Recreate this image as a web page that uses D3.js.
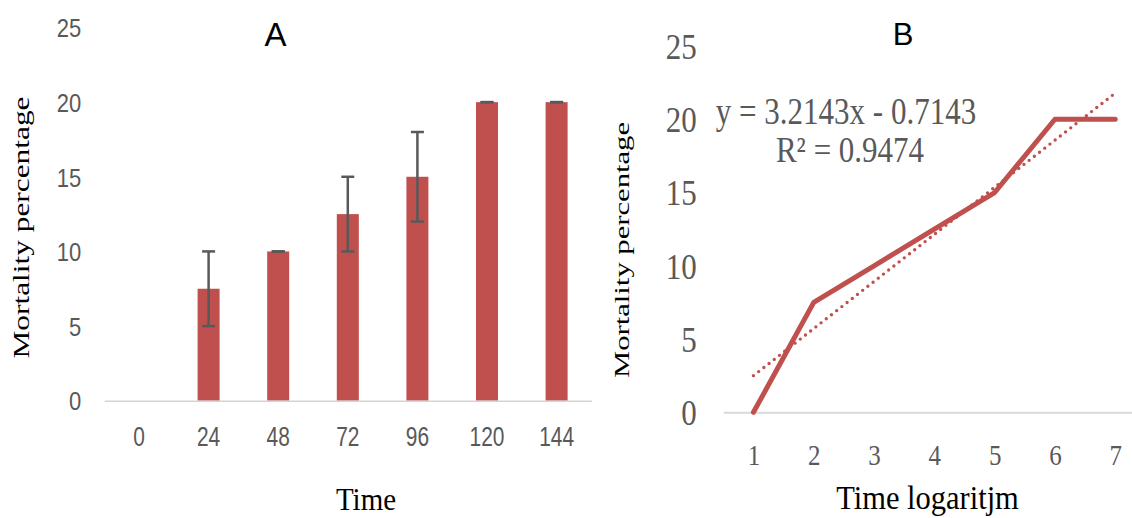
<!DOCTYPE html>
<html>
<head>
<meta charset="utf-8">
<script src="https://cdn.jsdelivr.net/npm/d3@7"></script>
<style>
  html, body { margin: 0; padding: 0; background: #fff; }
  svg { display: block; }
</style>
</head>
<body>
<div id="chart"></div>
<script>
// chart A: mortality over time (bars + error bars)
const timeLabels = ["0", "24", "48", "72", "96", "120", "144"];
const mortality = [0, 7.5, 10, 12.5, 15, 20, 20];
const mortalityErr = [0, 2.5, 0, 2.5, 3, 0, 0];

// chart B: mortality against time logarithm
const logTime = [1, 2, 3, 4, 5, 6, 7];
const logMortality = [0, 7.5, 10, 12.5, 15, 20, 20];

const yTicks = [0, 5, 10, 15, 20, 25];

const red = "#c0504d";
const grey = "#595959";
const sans = "'Liberation Sans', Arial, sans-serif";
const serif = "'Liberation Serif', 'Times New Roman', serif";

const svg = d3.select("#chart").append("svg")
    .attr("width", 1132)
    .attr("height", 518);

svg.append("rect").attr("width", 1132).attr("height", 518).attr("fill", "#fff");

// ---------- A ----------
const xA = d3.scaleBand().domain(timeLabels).range([104.2, 591.4]).padding(0);
const yA = d3.scaleLinear().domain([0, 25]).range([400.7, 27.5]);

const dataA = timeLabels.map((t, i) => ({ t, v: mortality[i], e: mortalityErr[i] }));
const barW = xA.bandwidth() * 0.316;

svg.append("g").selectAll("rect")
  .data(dataA.filter(d => d.v > 0))
  .join("rect")
    .attr("x", d => xA(d.t) + (xA.bandwidth() - barW) / 2)
    .attr("y", d => yA(d.v))
    .attr("width", barW)
    .attr("height", d => yA(0) - yA(d.v))
    .attr("fill", red);

// error bars
const err = svg.append("g").attr("stroke", grey).attr("stroke-width", 2.5);
dataA.filter(d => d.v > 0).forEach(d => {
  const cx = xA(d.t) + xA.bandwidth() / 2;
  err.append("line").attr("x1", cx).attr("x2", cx)
    .attr("y1", yA(d.v - d.e)).attr("y2", yA(d.v + d.e));
  [d.v - d.e, d.v + d.e].forEach(v => {
    err.append("line").attr("x1", cx - 6.5).attr("x2", cx + 6.5)
      .attr("y1", yA(v)).attr("y2", yA(v));
  });
});

const axA = svg.append("g")
    .attr("transform", `translate(0,${yA(0)})`)
    .call(d3.axisBottom(xA).tickSize(0).tickSizeOuter(0));
axA.select(".domain").attr("stroke", "#d4d4d4").attr("stroke-width", 1.5);
axA.selectAll("text")
    .attr("y", 0).attr("dy", "0.35em")
    .attr("transform", "translate(0,36) scale(0.95,1.22)")
    .attr("fill", grey).style("font", `22px ${sans}`);

const ayA = svg.append("g")
    .attr("transform", `translate(${xA.range()[0]},0)`)
    .call(d3.axisLeft(yA).tickValues(yTicks).tickSize(0).tickPadding(23));
ayA.select(".domain").remove();
ayA.selectAll("text")
    .attr("dy", "0.35em")
    .attr("transform", "scale(1,1.2)")
    .attr("fill", grey).style("font", `22px ${sans}`);

svg.append("text")
    .attr("transform", "translate(366,510) scale(1,1.12)")
    .attr("text-anchor", "middle")
    .style("font", `29px ${serif}`)
    .attr("fill", "#000")
    .text("Time");

svg.append("text")
    .attr("transform", "translate(29,227.5) rotate(-90)")
    .attr("text-anchor", "middle")
    .attr("textLength", 262)
    .attr("lengthAdjust", "spacingAndGlyphs")
    .style("font", `23px ${serif}`)
    .attr("fill", "#000")
    .text("Mortality  percentage");

svg.append("text")
    .attr("x", 275.5).attr("y", 45.7)
    .attr("text-anchor", "middle")
    .style("font", `33px ${sans}`)
    .attr("fill", "#000")
    .text("A");

// ---------- B ----------
const xB = d3.scaleLinear().domain([0.5, 7.5]).range([723.3, 1145.4]);
const yB = d3.scaleLinear().domain([0, 25]).range([412.3, 46]);

const axB = svg.append("g")
    .attr("transform", `translate(0,${yB(0)})`)
    .call(d3.axisBottom(xB).tickValues(logTime).tickFormat(d3.format("d")).tickSize(0).tickSizeOuter(0));
axB.select(".domain").attr("stroke", "#d9d9d9").attr("stroke-width", 2);
axB.selectAll("text")
    .attr("y", 0).attr("dy", "0.34em")
    .attr("transform", "translate(0,42.7) scale(1,1.18)")
    .attr("fill", grey).style("font", `25px ${serif}`);

const ayB = svg.append("g")
    .attr("transform", `translate(${xB(0.5)},0)`)
    .call(d3.axisLeft(yB).tickValues(yTicks).tickSize(0).tickPadding(26.6));
ayB.select(".domain").remove();
ayB.selectAll("text")
    .attr("dy", "0.34em")
    .attr("transform", "scale(1,1.17)")
    .attr("fill", grey).style("font", `31px ${serif}`);

// linear trend line (least squares)
const mx = d3.mean(logTime), my = d3.mean(logMortality);
const sxy = d3.sum(logTime, (x, i) => (x - mx) * (logMortality[i] - my));
const sxx = d3.sum(logTime, x => (x - mx) ** 2);
const syy = d3.sum(logMortality, y => (y - my) ** 2);
const slope = sxy / sxx;
const intercept = my - slope * mx;
const r2 = (sxy * sxy) / (sxx * syy);

const ext = d3.extent(logTime);
svg.append("path")
    .datum(ext.map(x => [x, slope * x + intercept]))
    .attr("d", d3.line().x(d => xB(d[0])).y(d => yB(d[1])))
    .attr("fill", "none")
    .attr("stroke", red)
    .attr("stroke-width", 3.4)
    .attr("stroke-linecap", "round")
    .attr("stroke-dasharray", "0 6.6");

svg.append("path")
    .datum(logTime.map((x, i) => [x, logMortality[i]]))
    .attr("d", d3.line().x(d => xB(d[0])).y(d => yB(d[1])))
    .attr("fill", "none")
    .attr("stroke", red)
    .attr("stroke-width", 5)
    .attr("stroke-linecap", "round")
    .attr("stroke-linejoin", "round");

const sign = intercept < 0 ? "-" : "+";
svg.append("text")
    .attr("transform", "translate(846,124.3) scale(1,1.2)")
    .attr("text-anchor", "middle")
    .attr("fill", grey).style("font", `31px ${serif}`)
    .text(`y = ${slope.toFixed(4)}x ${sign} ${Math.abs(intercept).toFixed(4)}`);
svg.append("text")
    .attr("transform", "translate(850,161.7) scale(1,1.15)")
    .attr("text-anchor", "middle")
    .attr("fill", grey).style("font", `31px ${serif}`)
    .text(`R² = ${r2.toFixed(4)}`);

svg.append("text")
    .attr("transform", "translate(927.5,508.5) scale(1,1.08)")
    .attr("text-anchor", "middle")
    .style("font", `30.5px ${serif}`)
    .attr("fill", "#000")
    .text("Time logaritjm");

svg.append("text")
    .attr("transform", "translate(629,250) rotate(-90)")
    .attr("text-anchor", "middle")
    .attr("textLength", 256)
    .attr("lengthAdjust", "spacingAndGlyphs")
    .style("font", `21px ${serif}`)
    .attr("fill", "#000")
    .text("Mortality  percentage");

svg.append("text")
    .attr("x", 903).attr("y", 45)
    .attr("text-anchor", "middle")
    .style("font", `31px ${sans}`)
    .attr("fill", "#000")
    .text("B");
</script>
</body>
</html>
